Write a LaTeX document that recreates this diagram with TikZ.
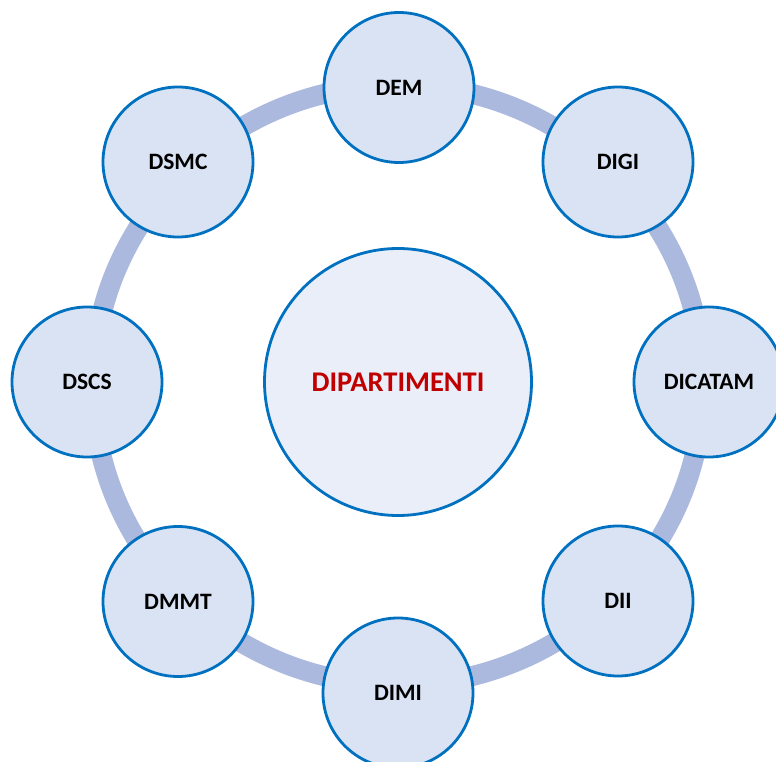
\documentclass[tikz,border=0pt]{standalone}
\usepackage{fontspec}
\setmainfont{Carlito}
\definecolor{ringc}{HTML}{ABB9DE}
\definecolor{edgec}{HTML}{0070C0}
\definecolor{fillo}{HTML}{DAE3F3}
\definecolor{fillc}{HTML}{E9EEF8}
\definecolor{redc}{HTML}{C00000}
\tikzset{
  dept/.style={circle, draw=edgec, line width=2.8pt, fill=fillo, minimum size=150pt, inner sep=0pt,
    font=\fontsize{23.5}{28}\selectfont\bfseries, text=black},
  hub/.style={circle, draw=edgec, line width=2.8pt, fill=fillc, minimum size=267pt, inner sep=0pt,
    font=\fontsize{28.5}{34}\selectfont\bfseries, text=redc},
  ring/.style={draw=ringc, line width=20pt}
}
\begin{document}
\begin{tikzpicture}[x=1pt,y=-1pt]
\useasboundingbox (0,0) rectangle (776,762);
\draw[ring] (398,385) ellipse [x radius=305pt, y radius=300pt];
\node[hub] (center) at (398,382) {DIPARTIMENTI};
\node[dept] (dem) at (399,87.5) {DEM};
\node[dept] (digi) at (618,162) {DIGI};
\node[dept] (dicatam) at (709,382) {DICATAM};
\node[dept] (dii) at (618,601) {DII};
\node[dept] (dimi) at (398,693) {DIMI};
\node[dept] (dmmt) at (178,601.5) {DMMT};
\node[dept] (dscs) at (87,382) {DSCS};
\node[dept] (dsmc) at (178,162) {DSMC};
\end{tikzpicture}
\end{document}
